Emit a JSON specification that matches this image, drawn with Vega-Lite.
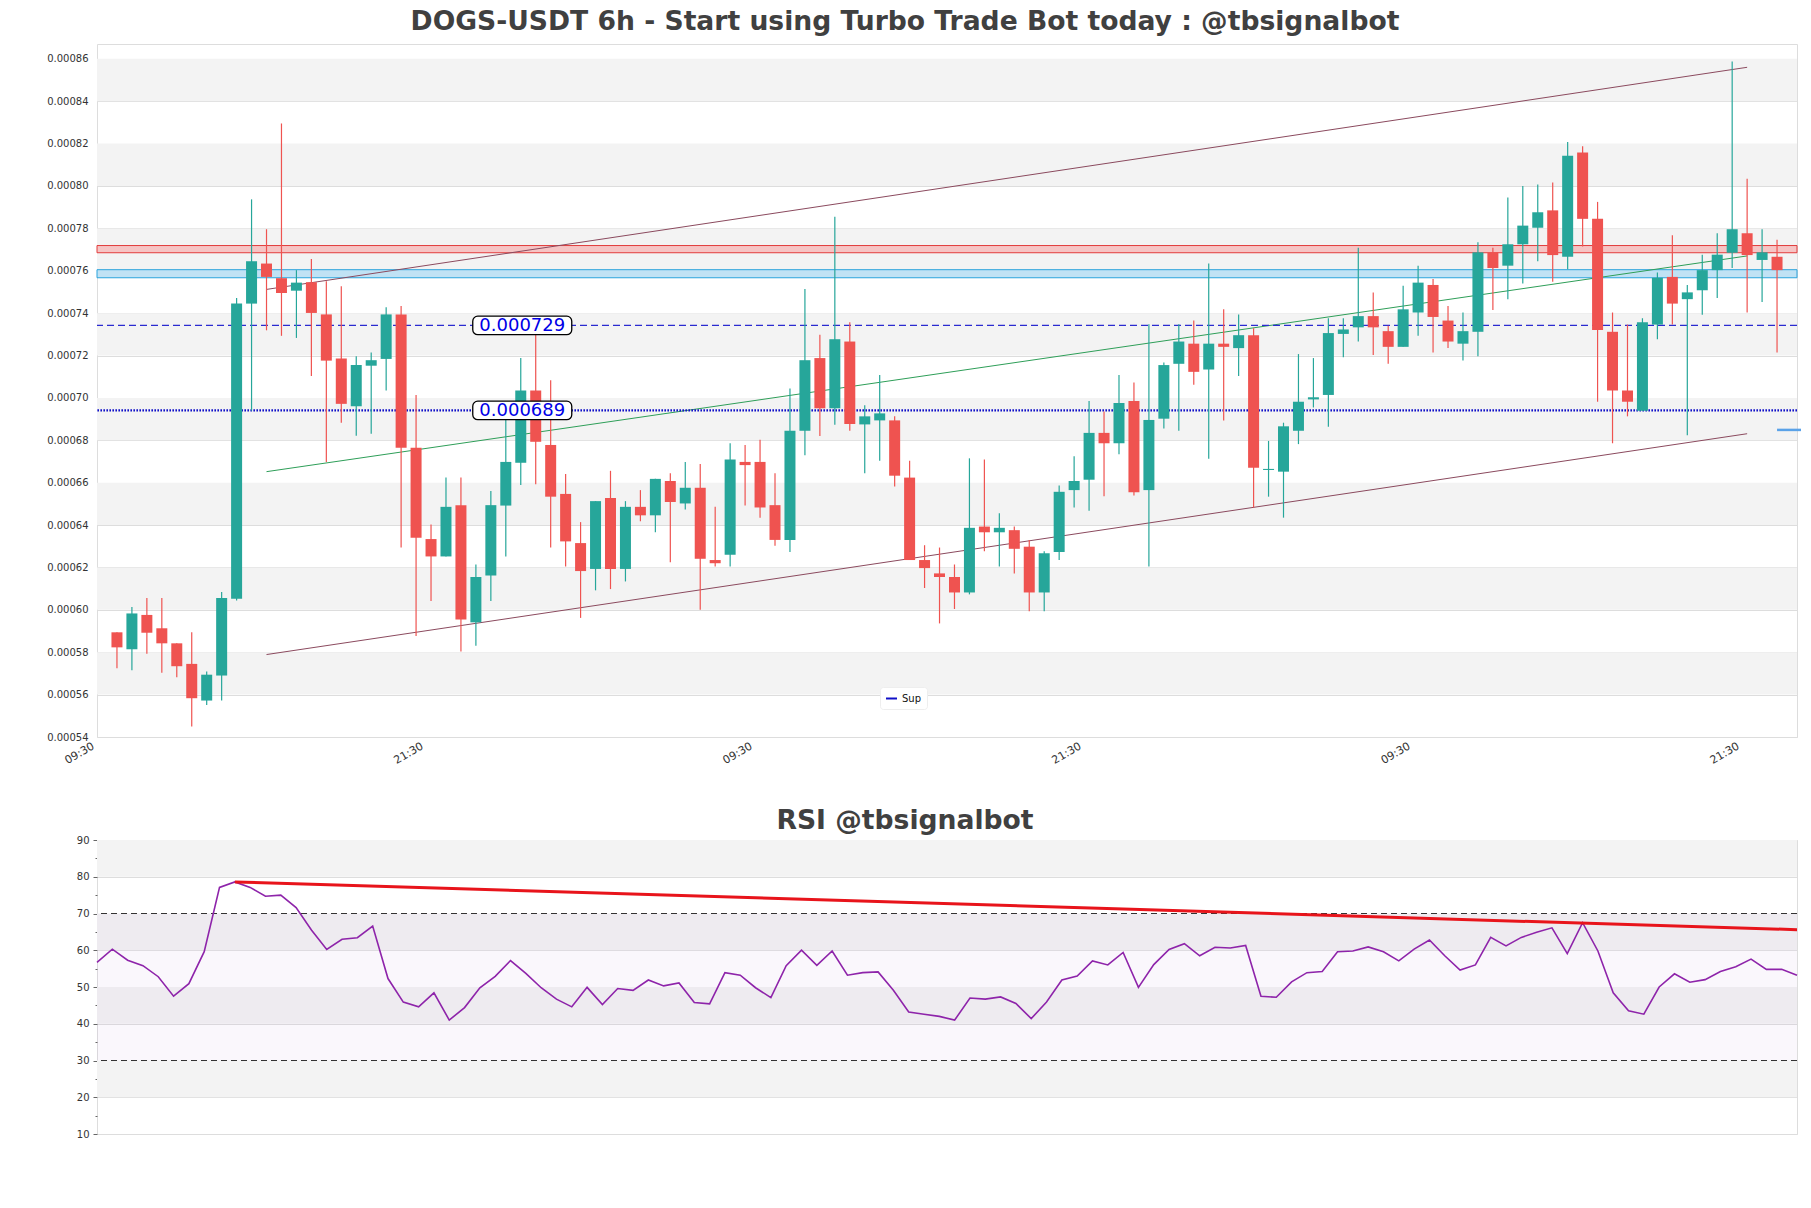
{
  "$schema": "https://vega.github.io/schema/vega-lite/v6.json",
  "background": "white",
  "padding": {"left": 46, "top": 8, "right": 5, "bottom": 0},
  "spacing": 41,
  "config": {
    "font": "DejaVu Sans",
    "view": {"stroke": "#dddddd"},
    "axis": {"labelFont": "DejaVu Sans", "labelFontSize": 10, "labelColor": "#333333", "domain": false, "grid": false, "title": null},
    "title": {"font": "DejaVu Sans", "fontSize": 26.6, "fontWeight": "bold", "color": "#404040", "anchor": "middle"}
  },
  "datasets": {
    "candles": [
      {"i":0,"o":0.0005894,"h":0.0005894,"l":0.0005724,"c":0.0005823},
      {"i":1,"o":0.0005814,"h":0.0006014,"l":0.0005715,"c":0.0005983},
      {"i":2,"o":0.0005976,"h":0.0006056,"l":0.0005793,"c":0.0005892},
      {"i":3,"o":0.0005913,"h":0.0006056,"l":0.0005703,"c":0.0005842},
      {"i":4,"o":0.0005842,"h":0.0005842,"l":0.0005682,"c":0.0005734},
      {"i":5,"o":0.0005745,"h":0.0005894,"l":0.0005450,"c":0.0005583},
      {"i":6,"o":0.0005572,"h":0.0005709,"l":0.0005551,"c":0.0005694},
      {"i":7,"o":0.0005690,"h":0.0006084,"l":0.0005572,"c":0.0006056},
      {"i":8,"o":0.0006052,"h":0.0007472,"l":0.0006044,"c":0.0007445},
      {"i":9,"o":0.0007445,"h":0.0007937,"l":0.0006940,"c":0.0007645},
      {"i":10,"o":0.0007634,"h":0.0007796,"l":0.0007319,"c":0.0007571},
      {"i":11,"o":0.0007565,"h":0.0008295,"l":0.0007293,"c":0.0007495},
      {"i":12,"o":0.0007506,"h":0.0007603,"l":0.0007283,"c":0.0007544},
      {"i":13,"o":0.0007546,"h":0.0007655,"l":0.0007104,"c":0.0007401},
      {"i":14,"o":0.0007394,"h":0.0007550,"l":0.0006698,"c":0.0007176},
      {"i":15,"o":0.0007186,"h":0.0007527,"l":0.0006883,"c":0.0006972},
      {"i":16,"o":0.0006961,"h":0.0007197,"l":0.0006822,"c":0.0007155},
      {"i":17,"o":0.0007152,"h":0.0007214,"l":0.0006831,"c":0.0007178},
      {"i":18,"o":0.0007184,"h":0.0007428,"l":0.0007035,"c":0.0007394},
      {"i":19,"o":0.0007394,"h":0.0007434,"l":0.0006294,"c":0.0006765},
      {"i":20,"o":0.0006765,"h":0.0007014,"l":0.0005877,"c":0.0006340},
      {"i":21,"o":0.0006334,"h":0.0006403,"l":0.0006042,"c":0.0006252},
      {"i":22,"o":0.0006252,"h":0.0006624,"l":0.0006252,"c":0.0006486},
      {"i":23,"o":0.0006494,"h":0.0006624,"l":0.0005804,"c":0.0005955},
      {"i":24,"o":0.0005941,"h":0.0006214,"l":0.0005831,"c":0.0006155},
      {"i":25,"o":0.0006162,"h":0.0006561,"l":0.0006042,"c":0.0006494},
      {"i":26,"o":0.0006492,"h":0.0006898,"l":0.0006252,"c":0.0006698},
      {"i":27,"o":0.0006694,"h":0.0007188,"l":0.0006589,"c":0.0007035},
      {"i":28,"o":0.0007035,"h":0.0007319,"l":0.0006593,"c":0.0006793},
      {"i":29,"o":0.0006778,"h":0.0007083,"l":0.0006294,"c":0.0006534},
      {"i":30,"o":0.0006547,"h":0.0006641,"l":0.0006204,"c":0.0006323},
      {"i":31,"o":0.0006315,"h":0.0006414,"l":0.0005962,"c":0.0006183},
      {"i":32,"o":0.0006193,"h":0.0006513,"l":0.0006092,"c":0.0006513},
      {"i":33,"o":0.0006528,"h":0.0006656,"l":0.0006098,"c":0.0006193},
      {"i":34,"o":0.0006193,"h":0.0006513,"l":0.0006134,"c":0.0006486},
      {"i":35,"o":0.0006486,"h":0.0006565,"l":0.0006418,"c":0.0006446},
      {"i":36,"o":0.0006446,"h":0.0006618,"l":0.0006366,"c":0.0006618},
      {"i":37,"o":0.0006608,"h":0.0006645,"l":0.0006225,"c":0.0006509},
      {"i":38,"o":0.0006502,"h":0.0006698,"l":0.0006473,"c":0.0006576},
      {"i":39,"o":0.0006576,"h":0.0006688,"l":0.0006000,"c":0.0006241},
      {"i":40,"o":0.0006235,"h":0.0006486,"l":0.0006204,"c":0.0006220},
      {"i":41,"o":0.0006260,"h":0.0006786,"l":0.0006204,"c":0.0006709},
      {"i":42,"o":0.0006698,"h":0.0006778,"l":0.0006492,"c":0.0006683},
      {"i":43,"o":0.0006698,"h":0.0006803,"l":0.0006435,"c":0.0006483},
      {"i":44,"o":0.0006494,"h":0.0006645,"l":0.0006302,"c":0.0006330},
      {"i":45,"o":0.0006330,"h":0.0007045,"l":0.0006273,"c":0.0006845},
      {"i":46,"o":0.0006845,"h":0.0007514,"l":0.0006730,"c":0.0007178},
      {"i":47,"o":0.0007188,"h":0.0007298,"l":0.0006820,"c":0.0006951},
      {"i":48,"o":0.0006951,"h":0.0007855,"l":0.0006873,"c":0.0007277},
      {"i":49,"o":0.0007266,"h":0.0007357,"l":0.0006845,"c":0.0006877},
      {"i":50,"o":0.0006875,"h":0.0006965,"l":0.0006645,"c":0.0006913},
      {"i":51,"o":0.0006894,"h":0.0007108,"l":0.0006704,"c":0.0006927},
      {"i":52,"o":0.0006894,"h":0.0006913,"l":0.0006582,"c":0.0006633},
      {"i":53,"o":0.0006624,"h":0.0006704,"l":0.0006235,"c":0.0006235},
      {"i":54,"o":0.0006235,"h":0.0006305,"l":0.0006103,"c":0.0006197},
      {"i":55,"o":0.0006172,"h":0.0006294,"l":0.0005936,"c":0.0006155},
      {"i":56,"o":0.0006155,"h":0.0006214,"l":0.0006004,"c":0.0006082},
      {"i":57,"o":0.0006082,"h":0.0006715,"l":0.0006073,"c":0.0006387},
      {"i":58,"o":0.0006393,"h":0.0006709,"l":0.0006277,"c":0.0006366},
      {"i":59,"o":0.0006366,"h":0.0006456,"l":0.0006204,"c":0.0006387},
      {"i":60,"o":0.0006376,"h":0.0006393,"l":0.0006172,"c":0.0006288},
      {"i":61,"o":0.0006298,"h":0.0006330,"l":0.0005993,"c":0.0006082},
      {"i":62,"o":0.0006082,"h":0.0006277,"l":0.0005993,"c":0.0006267},
      {"i":63,"o":0.0006273,"h":0.0006587,"l":0.0006235,"c":0.0006557},
      {"i":64,"o":0.0006565,"h":0.0006725,"l":0.0006483,"c":0.0006608},
      {"i":65,"o":0.0006614,"h":0.0006986,"l":0.0006467,"c":0.0006835},
      {"i":66,"o":0.0006835,"h":0.0006936,"l":0.0006536,"c":0.0006786},
      {"i":67,"o":0.0006786,"h":0.0007108,"l":0.0006734,"c":0.0006976},
      {"i":68,"o":0.0006986,"h":0.0007073,"l":0.0006540,"c":0.0006555},
      {"i":69,"o":0.0006565,"h":0.0007348,"l":0.0006204,"c":0.0006896},
      {"i":70,"o":0.0006902,"h":0.0007167,"l":0.0006856,"c":0.0007155},
      {"i":71,"o":0.0007161,"h":0.0007348,"l":0.0006845,"c":0.0007266},
      {"i":72,"o":0.0007256,"h":0.0007365,"l":0.0007062,"c":0.0007123},
      {"i":73,"o":0.0007134,"h":0.0007634,"l":0.0006713,"c":0.0007256},
      {"i":74,"o":0.0007256,"h":0.0007418,"l":0.0006894,"c":0.0007241},
      {"i":75,"o":0.0007235,"h":0.0007394,"l":0.0007104,"c":0.0007296},
      {"i":76,"o":0.0007296,"h":0.0007329,"l":0.0006483,"c":0.0006671},
      {"i":77,"o":0.0006660,"h":0.0006797,"l":0.0006534,"c":0.0006665},
      {"i":78,"o":0.0006652,"h":0.0006883,"l":0.0006435,"c":0.0006866},
      {"i":79,"o":0.0006845,"h":0.0007207,"l":0.0006782,"c":0.0006982},
      {"i":80,"o":0.0006993,"h":0.0007188,"l":0.0006955,"c":0.0007003},
      {"i":81,"o":0.0007014,"h":0.0007376,"l":0.0006864,"c":0.0007306},
      {"i":82,"o":0.0007302,"h":0.0007376,"l":0.0007192,"c":0.0007323},
      {"i":83,"o":0.0007333,"h":0.0007708,"l":0.0007266,"c":0.0007386},
      {"i":84,"o":0.0007386,"h":0.0007498,"l":0.0007203,"c":0.0007333},
      {"i":85,"o":0.0007315,"h":0.0007340,"l":0.0007161,"c":0.0007241},
      {"i":86,"o":0.0007241,"h":0.0007529,"l":0.0007241,"c":0.0007418},
      {"i":87,"o":0.0007403,"h":0.0007624,"l":0.0007293,"c":0.0007544},
      {"i":88,"o":0.0007533,"h":0.0007561,"l":0.0007214,"c":0.0007382},
      {"i":89,"o":0.0007365,"h":0.0007434,"l":0.0007235,"c":0.0007266},
      {"i":90,"o":0.0007256,"h":0.0007403,"l":0.0007176,"c":0.0007315},
      {"i":91,"o":0.0007312,"h":0.0007735,"l":0.0007197,"c":0.0007687},
      {"i":92,"o":0.0007687,"h":0.0007708,"l":0.0007415,"c":0.0007613},
      {"i":93,"o":0.0007624,"h":0.0007946,"l":0.0007466,"c":0.0007725},
      {"i":94,"o":0.0007725,"h":0.0008000,"l":0.0007540,"c":0.0007813},
      {"i":95,"o":0.0007803,"h":0.0008007,"l":0.0007645,"c":0.0007876},
      {"i":96,"o":0.0007885,"h":0.0008017,"l":0.0007548,"c":0.0007674},
      {"i":97,"o":0.0007666,"h":0.0008207,"l":0.0007607,"c":0.0008143},
      {"i":98,"o":0.0008158,"h":0.0008188,"l":0.0007714,"c":0.0007845},
      {"i":99,"o":0.0007845,"h":0.0007925,"l":0.0006982,"c":0.0007321},
      {"i":100,"o":0.0007312,"h":0.0007403,"l":0.0006786,"c":0.0007035},
      {"i":101,"o":0.0007035,"h":0.0007346,"l":0.0006913,"c":0.0006982},
      {"i":102,"o":0.0006940,"h":0.0007376,"l":0.0006940,"c":0.0007357},
      {"i":103,"o":0.0007346,"h":0.0007592,"l":0.0007277,"c":0.0007567},
      {"i":104,"o":0.0007571,"h":0.0007767,"l":0.0007346,"c":0.0007445},
      {"i":105,"o":0.0007466,"h":0.0007533,"l":0.0006824,"c":0.0007498},
      {"i":106,"o":0.0007508,"h":0.0007676,"l":0.0007392,"c":0.0007603},
      {"i":107,"o":0.0007603,"h":0.0007777,"l":0.0007472,"c":0.0007676},
      {"i":108,"o":0.0007685,"h":0.0008587,"l":0.0007613,"c":0.0007796},
      {"i":109,"o":0.0007777,"h":0.0008034,"l":0.0007403,"c":0.0007674},
      {"i":110,"o":0.0007651,"h":0.0007796,"l":0.0007453,"c":0.0007687},
      {"i":111,"o":0.0007666,"h":0.0007746,"l":0.0007214,"c":0.0007603}
    ],
    "bands": [
      {"lo":0.00084,"hi":0.00086},{"lo":0.00080,"hi":0.00082},{"lo":0.00076,"hi":0.00078},{"lo":0.00072,"hi":0.00074},
      {"lo":0.00068,"hi":0.00070},{"lo":0.00064,"hi":0.00066},{"lo":0.00060,"hi":0.00062},{"lo":0.00056,"hi":0.00058}
    ],
    "zones": [
      {"name":"resistance","lo":0.0007685,"hi":0.0007719},
      {"name":"support","lo":0.0007567,"hi":0.0007605}
    ],
    "trends": [
      {"name":"upper","i":10,"v":0.0007512},{"name":"upper","i":109,"v":0.0008560},
      {"name":"lower","i":10,"v":0.0005789},{"name":"lower","i":109,"v":0.0006831},
      {"name":"mid","i":10,"v":0.0006652},{"name":"mid","i":109,"v":0.0007670}
    ],
    "labels": [
      {"label":"0.000729","price":0.0007342,"i":27.1},
      {"label":"0.000689","price":0.0006941,"i":27.1}
    ],
    "levels": [
      {"name":"Res","price":0.0007342},
      {"name":"Sup","price":0.0006941}
    ],
    "lastPrice": [{"i":111,"i2":112.6,"price":0.0006849}],
    "rsi": [
      {"i":0,"r":56.7},{"i":1,"r":60.3},{"i":2,"r":57.3},{"i":3,"r":55.8},{"i":4,"r":52.8},{"i":5,"r":47.5},{"i":6,"r":50.9},{"i":7,"r":59.6},
      {"i":8,"r":77.1},{"i":9,"r":78.6},{"i":10,"r":77.1},{"i":11,"r":74.7},{"i":12,"r":75.0},{"i":13,"r":71.6},{"i":14,"r":65.5},{"i":15,"r":60.2},
      {"i":16,"r":63.0},{"i":17,"r":63.4},{"i":18,"r":66.6},{"i":19,"r":52.3},{"i":20,"r":45.9},{"i":21,"r":44.6},{"i":22,"r":48.4},{"i":23,"r":41.0},
      {"i":24,"r":44.4},{"i":25,"r":49.8},{"i":26,"r":52.9},{"i":27,"r":57.2},{"i":28,"r":53.7},{"i":29,"r":49.8},{"i":30,"r":46.7},{"i":31,"r":44.6},
      {"i":32,"r":49.9},{"i":33,"r":45.2},{"i":34,"r":49.6},{"i":35,"r":49.1},{"i":36,"r":51.9},{"i":37,"r":50.3},{"i":38,"r":51.1},{"i":39,"r":45.8},
      {"i":40,"r":45.4},{"i":41,"r":53.9},{"i":42,"r":53.2},{"i":43,"r":49.8},{"i":44,"r":47.1},{"i":45,"r":55.8},{"i":46,"r":60.0},{"i":47,"r":55.9},
      {"i":48,"r":59.8},{"i":49,"r":53.2},{"i":50,"r":53.9},{"i":51,"r":54.1},{"i":52,"r":49.1},{"i":53,"r":43.2},{"i":54,"r":42.6},{"i":55,"r":42.0},
      {"i":56,"r":41.0},{"i":57,"r":47.0},{"i":58,"r":46.7},{"i":59,"r":47.3},{"i":60,"r":45.5},{"i":61,"r":41.4},{"i":62,"r":45.9},{"i":63,"r":51.9},
      {"i":64,"r":53.0},{"i":65,"r":57.1},{"i":66,"r":56.0},{"i":67,"r":59.4},{"i":68,"r":49.9},{"i":69,"r":56.1},{"i":70,"r":60.2},{"i":71,"r":61.8},
      {"i":72,"r":58.5},{"i":73,"r":60.8},{"i":74,"r":60.6},{"i":75,"r":61.3},{"i":76,"r":47.5},{"i":77,"r":47.2},{"i":78,"r":51.4},{"i":79,"r":53.9},
      {"i":80,"r":54.2},{"i":81,"r":59.6},{"i":82,"r":59.8},{"i":83,"r":60.9},{"i":84,"r":59.6},{"i":85,"r":57.1},{"i":86,"r":60.3},{"i":87,"r":62.8},
      {"i":88,"r":58.5},{"i":89,"r":54.6},{"i":90,"r":56.0},{"i":91,"r":63.5},{"i":92,"r":61.2},{"i":93,"r":63.5},{"i":94,"r":64.9},{"i":95,"r":66.1},
      {"i":96,"r":59.1},{"i":97,"r":67.5},{"i":98,"r":59.8},{"i":99,"r":48.4},{"i":100,"r":43.5},{"i":101,"r":42.6},{"i":102,"r":50.0},{"i":103,"r":53.6},
      {"i":104,"r":51.3},{"i":105,"r":52.0},{"i":106,"r":54.2},{"i":107,"r":55.5},{"i":108,"r":57.6},{"i":109,"r":54.8},{"i":110,"r":54.8},{"i":111,"r":53.2}
    ],
    "rsiBands": [{"lo":80,"hi":90},{"lo":60,"hi":70},{"lo":40,"hi":50},{"lo":20,"hi":30}],
    "rsiZone": [{"lo":30,"hi":70}],
    "rsiTrend": [{"i":9,"r":78.6},{"i":111,"r":65.6}],
    "rsiLevels": [{"lvl":70},{"lvl":30}]
  },
  "vconcat": [
    {
      "title": {"text": "DOGS-USDT 6h - Start using Turbo Trade Bot today : @tbsignalbot", "dx": -42, "offset": 8},
      "width": 1700,
      "height": 693,
      "encoding": {
        "x": {"type": "quantitative", "scale": {"domain": [-1, 112], "nice": false, "zero": false},
              "axis": {"values": [-1, 21, 43, 65, 87, 109], "labelExpr": "(datum.value + 1) % 44 == 0 ? '09:30' : '21:30'", "labelAngle": -30, "labelFontSize": 11, "labelOffset": -12, "ticks": false, "labelPadding": 3, "labelFlush": false, "labelOverlap": false, "labelBound": false}},
        "y": {"type": "quantitative", "scale": {"domain": [0.00054, 0.000867], "nice": false, "zero": false},
              "axis": {"values": [0.00054,0.00056,0.00058,0.0006,0.00062,0.00064,0.00066,0.00068,0.0007,0.00072,0.00074,0.00076,0.00078,0.0008,0.00082,0.00084,0.00086], "format": ".5f", "ticks": false, "labelPadding": 9, "grid": true, "gridColor": "#dddddd", "gridWidth": 1}}
      },
      "layer": [
        {"data": {"name": "bands"}, "mark": {"type": "rect", "fill": "#f3f3f3"},
         "encoding": {"x": null, "y": {"field": "lo"}, "y2": {"field": "hi"}}},
        {"data": {"name": "zones"}, "transform": [{"filter": "datum.name == 'resistance'"}],
         "mark": {"type": "rect", "strokeWidth": 1, "fill": "#f6c4c4", "stroke": "#e23c3c"},
         "encoding": {"x": null, "y": {"field": "lo"}, "y2": {"field": "hi"}}},
        {"data": {"name": "zones"}, "transform": [{"filter": "datum.name == 'support'"}],
         "mark": {"type": "rect", "strokeWidth": 1, "fill": "#c0e2f4", "stroke": "#2aa3dc"},
         "encoding": {"x": null, "y": {"field": "lo"}, "y2": {"field": "hi"}}},
        {"data": {"name": "trends"}, "mark": {"type": "line", "strokeWidth": 1, "clip": true},
         "encoding": {"x": {"field": "i"}, "y": {"field": "v"}, "detail": {"field": "name"},
           "color": {"field": "name", "scale": {"domain": ["upper","lower","mid"], "range": ["#8b4a5e","#8b4a5e","#2e9e58"]}, "legend": null}}},
        {"data": {"name": "levels"}, "transform": [{"filter": "datum.name == 'Res'"}],
         "mark": {"type": "rule", "color": "#2a2ad0", "strokeWidth": 1.2, "strokeDash": [7, 4]},
         "encoding": {"x": null, "y": {"field": "price"}}},
        {"data": {"name": "levels"}, "transform": [{"filter": "datum.name == 'Sup'"}],
         "mark": {"type": "rule", "strokeWidth": 2.2, "strokeDash": [1.6, 1.4]},
         "encoding": {"x": null, "y": {"field": "price"},
           "stroke": {"field": "name", "type": "nominal", "scale": {"domain": ["Sup"], "range": ["#1010c8"]},
             "legend": {"title": null, "orient": "none", "legendX": 783, "legendY": 643, "fillColor": "white", "strokeColor": "#eeeeee", "cornerRadius": 3, "padding": 5, "symbolType": "stroke", "symbolSize": 120, "symbolStrokeWidth": 2, "symbolDash": [20, 0], "labelFontSize": 10, "labelColor": "#111111", "labelFont": "DejaVu Sans"}}}},
        {"data": {"name": "candles"}, "mark": {"type": "rule", "strokeWidth": 1.2},
         "encoding": {"x": {"field": "i"}, "y": {"field": "l"}, "y2": {"field": "h"},
           "color": {"condition": {"test": "datum.c >= datum.o", "value": "#26a69a"}, "value": "#ef5350"}}},
        {"data": {"name": "candles"}, "mark": {"type": "bar", "size": 11},
         "encoding": {"x": {"field": "i"}, "y": {"field": "o"}, "y2": {"field": "c"},
           "color": {"condition": {"test": "datum.c >= datum.o", "value": "#26a69a"}, "value": "#ef5350"}}},
        {"data": {"name": "labels"}, "mark": {"type": "rect", "width": 99, "height": 18.5, "cornerRadius": 5, "fill": "white", "stroke": "black", "strokeWidth": 1.3},
         "encoding": {"x": {"field": "i"}, "y": {"field": "price"}}},
        {"data": {"name": "labels"}, "mark": {"type": "text", "fontSize": 18, "font": "DejaVu Sans", "color": "#0000e6", "align": "center", "baseline": "middle", "dy": 1},
         "encoding": {"x": {"field": "i"}, "y": {"field": "price"}, "text": {"field": "label"}}},
        {"data": {"name": "lastPrice"}, "mark": {"type": "rule", "color": "#5aa2e8", "strokeWidth": 2.5, "clip": false},
         "encoding": {"x": {"field": "i"}, "x2": {"field": "i2"}, "y": {"field": "price"}}}
      ]
    },
    {
      "title": {"text": "RSI @tbsignalbot", "dx": -42, "offset": 0},
      "width": 1700,
      "height": 294,
      "encoding": {
        "x": {"type": "quantitative", "scale": {"domain": [0, 111], "nice": false, "zero": false}, "axis": null},
        "y": {"type": "quantitative", "scale": {"domain": [10, 90], "nice": false, "zero": false},
              "axis": {"values": [10,15,20,25,30,35,40,45,50,55,60,65,70,75,80,85,90],
                       "labelExpr": "datum.value % 10 == 0 ? datum.label : ''",
                       "tickSize": {"condition": {"test": "datum.value % 10 != 0", "value": 2}, "value": 4},
                       "tickColor": "#666666", "labelPadding": 4, "grid": true,
                       "gridOpacity": {"condition": {"test": "datum.value % 10 != 0", "value": 0}, "value": 1},
                       "gridColor": "#dddddd"}}
      },
      "layer": [
        {"data": {"name": "rsiBands"}, "mark": {"type": "rect", "fill": "#f3f3f3"},
         "encoding": {"x": null, "y": {"field": "lo"}, "y2": {"field": "hi"}}},
        {"data": {"name": "rsiZone"}, "mark": {"type": "rect", "fill": "#b07cc6", "opacity": 0.06},
         "encoding": {"x": null, "y": {"field": "lo"}, "y2": {"field": "hi"}}},
        {"data": {"name": "rsiLevels"}, "mark": {"type": "rule", "color": "#333333", "strokeWidth": 1.2, "strokeDash": [6, 4]},
         "encoding": {"x": null, "y": {"field": "lvl"}}},
        {"data": {"name": "rsi"}, "mark": {"type": "line", "color": "#8e24aa", "strokeWidth": 1.6},
         "encoding": {"x": {"field": "i"}, "y": {"field": "r"}}},
        {"data": {"name": "rsiTrend"}, "mark": {"type": "line", "color": "#e8141b", "strokeWidth": 3},
         "encoding": {"x": {"field": "i"}, "y": {"field": "r"}}}
      ]
    }
  ]
}
